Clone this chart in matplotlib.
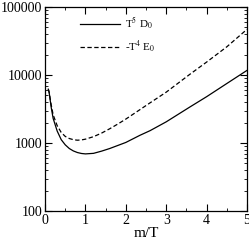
import numpy as np
import matplotlib
matplotlib.use('Agg')
import matplotlib.pyplot as plt
from matplotlib.ticker import MultipleLocator, LogLocator, FixedLocator, NullFormatter

plt.rcParams['font.family'] = ['Liberation Serif', 'DejaVu Serif']
plt.rcParams['mathtext.fontset'] = 'stix'

# values
x_d = [0.08, 0.1, 0.15, 0.2, 0.3, 0.4, 0.5, 0.6, 0.7, 0.8, 0.9, 1.0, 1.2, 1.4,
       1.6, 1.8, 2.0, 2.35, 2.6, 3.0, 3.59, 4.0, 4.5, 5.0]
t5_d0 = [6200, 5600, 3400, 2300, 1500, 1120, 940, 830, 765, 725, 702, 692, 705, 760,
         830, 920, 1020, 1300, 1520, 2050, 3400, 4800, 7500, 11700]
t4_e0 = [6200, 5600, 3700, 2600, 1800, 1430, 1250, 1165, 1120, 1100, 1110, 1140, 1240, 1400,
         1620, 1900, 2250, 3100, 3900, 5600, 10300, 15500, 26000, 47000]

fig = plt.figure(figsize=(2.49, 2.42), dpi=100)
ax = fig.add_axes([0.181, 0.128, 0.811, 0.843])

ax.plot(x_d, t5_d0, color='black', lw=0.9, ls='-', label=r'T$^5$ D$_0$')
ax.plot(x_d, t4_e0, color='black', lw=0.9, ls=(0, (3.5, 2)), label=r'-T$^4$ E$_0$')

ax.set_yscale('log')
ax.set_xlim(0, 5)
ax.set_ylim(100, 100000)
ax.xaxis.set_major_locator(MultipleLocator(1))
ax.xaxis.set_minor_locator(MultipleLocator(0.5))
ax.yaxis.set_major_locator(FixedLocator([100, 1000, 10000, 100000]))
ax.yaxis.set_major_formatter(matplotlib.ticker.FuncFormatter(lambda v, p: '%d' % v))
ax.yaxis.set_minor_locator(LogLocator(base=10, subs=np.arange(2, 10)))
ax.yaxis.set_minor_formatter(NullFormatter())

ax.tick_params(which='both', direction='in', top=True, right=True, labelsize=10, pad=2)
ax.tick_params(which='major', length=5, width=0.8)
ax.tick_params(which='minor', length=2.5, width=0.6)
for s in ax.spines.values():
    s.set_linewidth(0.9)

ax.set_xlabel('m/T', fontsize=11, labelpad=0)

ax.legend(loc='upper left', bbox_to_anchor=(0.15, 0.98), frameon=False, fontsize=8,
          handlelength=3.6, handletextpad=0.5, borderaxespad=0, labelspacing=0.6)

fig.savefig('out.png', dpi=100)
